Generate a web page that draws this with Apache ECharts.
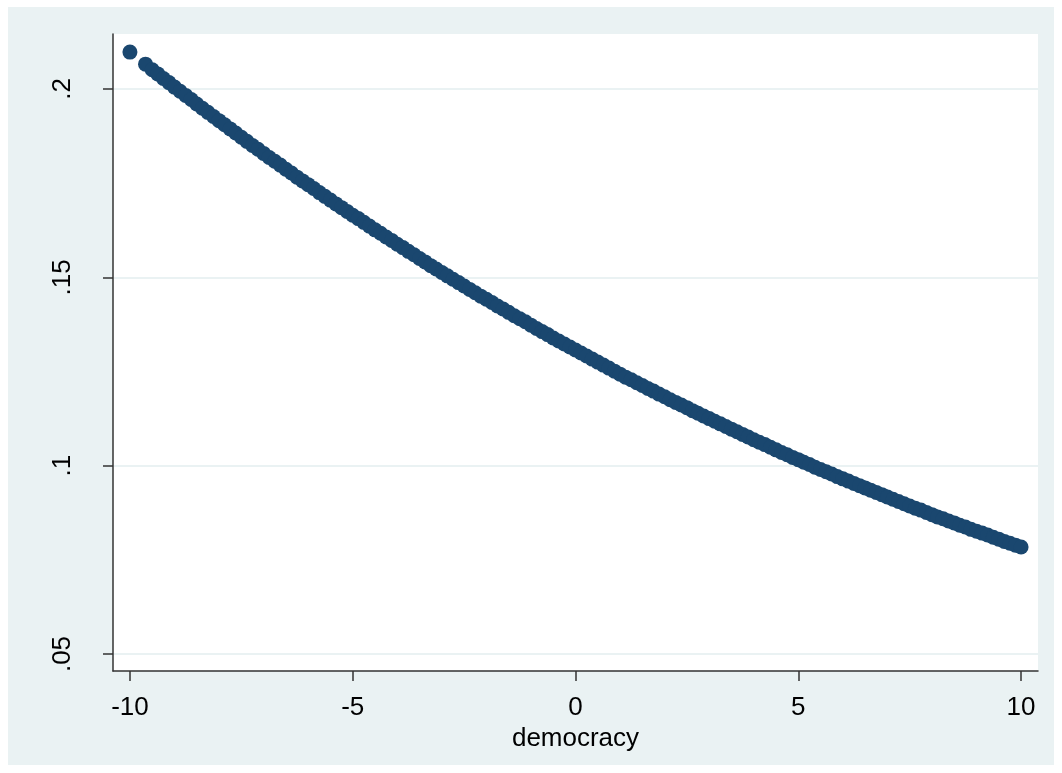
<!DOCTYPE html>
<html>
<head>
<meta charset="utf-8">
<script src="https://cdn.jsdelivr.net/npm/echarts@6/dist/echarts.min.js"></script>
<style>
html,body{margin:0;padding:0;background:#ffffff;}
#chart{width:1062px;height:773px;}
</style>
</head>
<body>
<div id="chart"></div>
<script>
// democracy values (x)
const democracy = [
  -10, -9.65, -9.5, -9.375, -9.25, -9.125, -9, -8.875, -8.75, -8.625, -8.5, -8.375, -8.25, -8.125,
  -8, -7.875, -7.75, -7.625, -7.5, -7.375, -7.25, -7.125, -7, -6.875, -6.75, -6.625, -6.5, -6.375, -6.25, -6.125,
  -6, -5.875, -5.75, -5.625, -5.5, -5.375, -5.25, -5.125, -5, -4.875, -4.75, -4.625, -4.5, -4.375, -4.25, -4.125,
  -4, -3.875, -3.75, -3.625, -3.5, -3.375, -3.25, -3.125, -3, -2.875, -2.75, -2.625, -2.5, -2.375, -2.25, -2.125,
  -2, -1.875, -1.75, -1.625, -1.5, -1.375, -1.25, -1.125, -1, -0.875, -0.75, -0.625, -0.5, -0.375, -0.25, -0.125,
  0, 0.125, 0.25, 0.375, 0.5, 0.625, 0.75, 0.875, 1, 1.125, 1.25, 1.375, 1.5, 1.625, 1.75, 1.875,
  2, 2.125, 2.25, 2.375, 2.5, 2.625, 2.75, 2.875, 3, 3.125, 3.25, 3.375, 3.5, 3.625, 3.75, 3.875,
  4, 4.125, 4.25, 4.375, 4.5, 4.625, 4.75, 4.875, 5, 5.125, 5.25, 5.375, 5.5, 5.625, 5.75, 5.875,
  6, 6.125, 6.25, 6.375, 6.5, 6.625, 6.75, 6.875, 7, 7.125, 7.25, 7.375, 7.5, 7.625, 7.75, 7.875,
  8, 8.125, 8.25, 8.375, 8.5, 8.625, 8.75, 8.875, 9, 9.125, 9.25, 9.375, 9.5, 9.625, 9.75, 9.875, 10
];
// predicted probability (y)
const predicted = [
  0.2098, 0.2066, 0.2051, 0.2040, 0.2028, 0.2017, 0.2005, 0.1994, 0.1983, 0.1972, 0.1960, 0.1949, 0.1938, 0.1927,
  0.1916, 0.1905, 0.1894, 0.1883, 0.1872, 0.1861, 0.1850, 0.1840, 0.1829, 0.1818, 0.1808, 0.1798, 0.1787, 0.1777, 0.1766, 0.1756,
  0.1746, 0.1736, 0.1725, 0.1715, 0.1705, 0.1695, 0.1685, 0.1675, 0.1665, 0.1656, 0.1646, 0.1636, 0.1626, 0.1617, 0.1607, 0.1598,
  0.1588, 0.1579, 0.1569, 0.1560, 0.1550, 0.1541, 0.1531, 0.1522, 0.1513, 0.1504, 0.1495, 0.1486, 0.1477, 0.1468, 0.1459, 0.1450,
  0.1442, 0.1433, 0.1424, 0.1416, 0.1407, 0.1398, 0.1390, 0.1382, 0.1373, 0.1364, 0.1356, 0.1348, 0.1339, 0.1331, 0.1323, 0.1315,
  0.1307, 0.1299, 0.1291, 0.1283, 0.1275, 0.1267, 0.1259, 0.1251, 0.1243, 0.1235, 0.1228, 0.1220, 0.1213, 0.1205, 0.1198, 0.1190,
  0.1183, 0.1175, 0.1168, 0.1161, 0.1154, 0.1146, 0.1139, 0.1132, 0.1125, 0.1118, 0.1111, 0.1104, 0.1097, 0.1090, 0.1083, 0.1076,
  0.1069, 0.1062, 0.1056, 0.1049, 0.1042, 0.1035, 0.1029, 0.1022, 0.1016, 0.1009, 0.1003, 0.0996, 0.0990, 0.0984, 0.0978, 0.0971,
  0.0965, 0.0959, 0.0953, 0.0947, 0.0941, 0.0935, 0.0929, 0.0923, 0.0917, 0.0911, 0.0905, 0.0899, 0.0893, 0.0887, 0.0882, 0.0876,
  0.0870, 0.0864, 0.0859, 0.0853, 0.0848, 0.0842, 0.0837, 0.0831, 0.0826, 0.0821, 0.0816, 0.0810, 0.0805, 0.0799, 0.0794, 0.0789, 0.0784
];
const xTicks = [-10, -5, 0, 5, 10];
const yTicks = [0.05, 0.1, 0.15, 0.2];
const yTickLabels = ['.05', '.1', '.15', '.2'];
const xTitle = 'democracy';

const points = democracy.map((d, i) => [d, predicted[i]]);
const font = '"Liberation Sans", Arial, sans-serif';
const chart = echarts.init(document.getElementById('chart'), null, {renderer: 'canvas'});
chart.setOption({
  animation: false,
  backgroundColor: '#ffffff',
  graphic: [{
    type: 'rect', z: -10, silent: true,
    shape: {x: 8, y: 7, width: 1046, height: 758},
    style: {fill: '#EAF2F3'}
  }],
  grid: {
    left: 113, top: 34, right: 24, bottom: 102,
    show: true, backgroundColor: '#ffffff', borderWidth: 0
  },
  xAxis: {
    type: 'value', min: -10.38, max: 10.38,
    name: xTitle, nameLocation: 'middle', nameGap: 47,
    nameTextStyle: {fontFamily: font, fontSize: 26, color: '#000'},
    axisLine: {show: true, onZero: false, lineStyle: {color: '#333', width: 1.5}},
    axisTick: {show: true, length: 10, customValues: xTicks, lineStyle: {color: '#333', width: 1.5}},
    axisLabel: {customValues: xTicks, margin: 24, fontFamily: font, fontSize: 26, color: '#000'},
    splitLine: {show: false}
  },
  yAxis: {
    type: 'value', min: 0.04549, max: 0.2146,
    axisLine: {show: true, onZero: false, lineStyle: {color: '#333', width: 1.5}},
    axisTick: {show: true, length: 10, customValues: yTicks, lineStyle: {color: '#333', width: 1.5}},
    axisLabel: {
      customValues: yTicks, rotate: 90, margin: 37, fontFamily: font, fontSize: 26, color: '#000',
      formatter: v => { const i = yTicks.findIndex(t => Math.abs(t - v) < 1e-9); return i >= 0 ? yTickLabels[i] : ''; }
    },
    splitLine: {show: true, lineStyle: {color: '#EAF2F3', width: 2}}
  },
  series: [{
    type: 'scatter',
    data: points,
    symbol: 'circle',
    symbolSize: 15,
    itemStyle: {color: '#1A476F', opacity: 1},
    clip: false
  }]
});
</script>
</body>
</html>
